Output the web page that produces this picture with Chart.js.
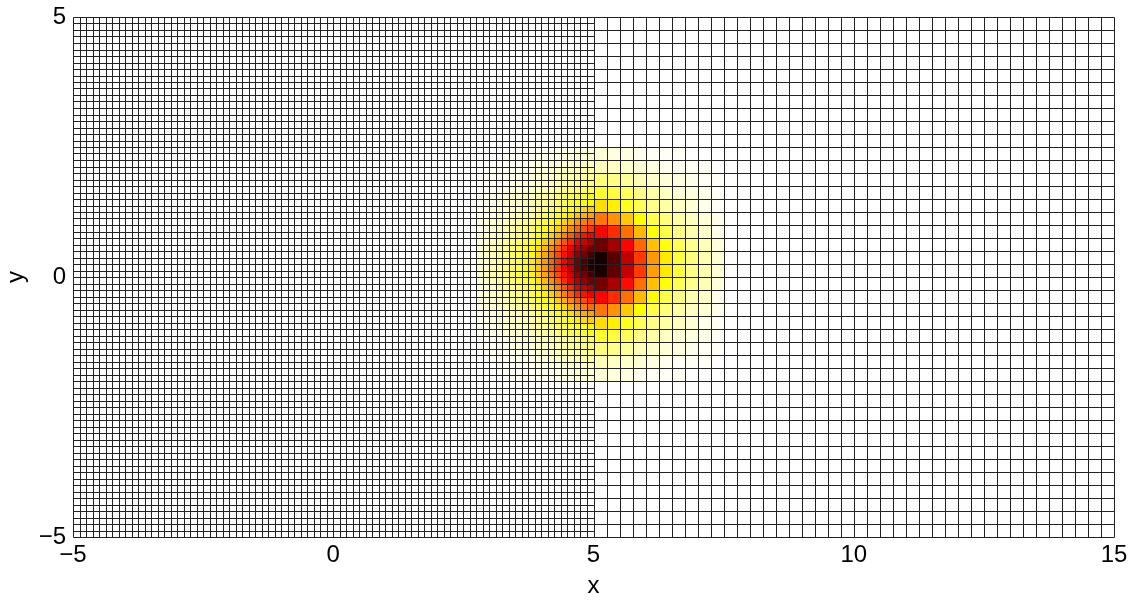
<!DOCTYPE html>
<html>
<head>
<meta charset="utf-8">
<title>Heat map on a two-part mesh</title>
<script src="https://cdn.jsdelivr.net/npm/chart.js@4.4.1/dist/chart.umd.min.js"></script>
<style>
    body { margin: 0; background: #fff; }
    #wrap { width: 1137px; height: 600px; }
</style>
</head>
<body>
<div id="wrap"><canvas id="mesh-chart"></canvas></div>
<script>
// Axis ranges and ticks
const xRange = [-5, 15];
const yRange = [-5, 5];
const xTicks = [-5, 0, 5, 10, 15];
const yTicks = [-5, 0, 5];

// Mesh: fine cells on the left half, coarse cells on the right half
const fineMeshX = [-5, 5];
const coarseMeshX = [5, 15];
const meshY = [-5, 5];
const fineStep = 0.125;
const coarseStep = 0.25;

// Field values (percent of peak), rows from top to bottom.
// Cells outside these blocks are zero (white).
const fineBlockX = [2.75, 5];   // 18 columns
const fineBlockY = [2.5, -2];   // 36 rows
const fineValues = [
    [0,0,0,0,0,0,1,1,1,1,1,1,2,2,2,3,3,3],
    [0,0,0,0,1,1,1,1,1,2,2,2,2,3,3,4,4,4],
    [0,0,0,1,1,1,1,1,2,2,2,3,3,4,4,5,5,6],
    [0,0,1,1,1,1,2,2,2,3,3,4,5,5,6,7,8,8],
    [0,1,1,1,1,2,2,3,3,4,4,5,6,7,8,9,10,11],
    [1,1,1,1,2,2,3,3,4,5,6,7,8,9,10,12,13,13],
    [1,1,1,2,2,3,4,4,5,6,7,9,10,12,13,15,16,17],
    [1,1,2,2,3,4,4,6,6,8,9,11,13,15,17,19,21,22],
    [1,1,2,3,4,4,5,6,8,9,11,13,15,17,20,23,24,26],
    [1,2,3,3,4,5,6,8,9,11,13,16,18,21,24,28,30,32],
    [2,2,3,4,5,7,8,10,11,14,17,20,23,26,30,34,37,39],
    [2,3,4,5,6,8,10,12,14,16,20,24,27,31,36,41,44,47],
    [2,3,4,6,7,9,11,14,16,19,23,27,32,36,42,48,51,55],
    [3,4,5,7,9,11,13,16,19,22,27,32,37,43,49,56,60,64],
    [3,4,6,8,10,12,15,19,22,26,32,37,43,50,57,66,70,75],
    [3,5,7,9,11,14,17,21,24,29,35,42,48,56,64,73,78,84],
    [4,5,7,9,12,15,18,23,26,31,38,45,52,60,69,79,84,90],
    [4,5,8,10,13,16,19,24,28,33,40,48,55,63,72,83,89,95],
    [4,5,8,10,13,16,19,24,28,33,40,48,55,63,72,83,89,95],
    [4,5,7,9,12,15,18,23,26,31,38,45,52,60,69,79,84,90],
    [3,5,7,9,11,14,17,21,24,29,35,42,48,56,64,73,78,84],
    [3,4,6,8,10,12,15,19,22,26,32,37,43,50,57,66,70,75],
    [3,4,5,7,9,11,13,16,19,22,27,32,37,43,49,56,60,64],
    [2,3,4,6,7,9,11,14,16,19,23,27,32,36,42,48,51,55],
    [2,3,4,5,6,8,10,12,14,16,20,24,27,31,36,41,44,47],
    [2,2,3,4,5,7,8,10,11,14,17,20,23,26,30,34,37,39],
    [1,2,3,3,4,5,6,8,9,11,13,16,18,21,24,28,30,32],
    [1,1,2,3,4,4,5,6,8,9,11,13,15,17,20,23,24,26],
    [1,1,2,2,3,4,4,6,6,8,9,11,13,15,17,19,21,22],
    [1,1,1,2,2,3,4,4,5,6,7,9,10,12,13,15,16,17],
    [1,1,1,1,2,2,3,3,4,5,6,7,8,9,10,12,13,13],
    [0,1,1,1,1,2,2,3,3,4,4,5,6,7,8,9,10,11],
    [0,0,1,1,1,1,2,2,2,3,3,4,5,5,6,7,8,8],
    [0,0,0,1,1,1,1,1,2,2,2,3,3,4,4,5,5,6],
    [0,0,0,0,1,1,1,1,1,2,2,2,2,3,3,4,4,4],
    [0,0,0,0,0,0,1,1,1,1,1,1,2,2,2,3,3,3]
];

const coarseBlockX = [5, 7.5];  // 10 columns
const coarseBlockY = [2.5, -2]; // 18 rows
const coarseValues = [
    [4,3,3,2,1,1,1,0,0,0],
    [7,6,5,4,3,2,1,1,1,0],
    [13,12,10,7,5,4,3,2,1,1],
    [21,19,16,12,9,6,4,3,2,1],
    [30,27,22,17,12,9,6,4,2,1],
    [45,41,33,25,18,13,9,6,4,2],
    [62,56,46,35,25,18,12,8,5,2],
    [84,76,62,47,34,24,17,11,7,3],
    [97,87,72,54,40,28,19,13,8,4],
    [96,86,71,54,39,28,19,12,8,4],
    [83,75,61,46,34,24,17,11,7,3],
    [62,56,46,35,25,18,12,8,5,2],
    [45,41,33,25,18,13,9,6,4,2],
    [30,27,22,17,12,9,6,4,2,1],
    [21,19,16,12,9,6,4,3,2,1],
    [13,12,10,7,5,4,3,2,1,1],
    [7,6,5,4,3,2,1,1,1,0],
    [4,3,3,2,1,1,1,0,0,0]
];

// Reversed "hot" colour map: 0 -> white, then yellow, red, black at the peak
function hotColor(v) {
    const t = 1 - Math.min(Math.max(v / 100, 0), 1);
    const clamp = a => Math.min(Math.max(a, 0), 1);
    const r = clamp(t / 0.375);
    const g = clamp((t - 0.375) / 0.375);
    const b = clamp((t - 0.75) / 0.25);
    return `rgb(${Math.round(r * 255)},${Math.round(g * 255)},${Math.round(b * 255)})`;
}

function drawBlock(ctx, xs, ys, blockX, blockY, step, values) {
    values.forEach((row, i) => {
        const yTop = blockY[0] - i * step;
        const py0 = Math.round(ys.getPixelForValue(yTop));
        const py1 = Math.round(ys.getPixelForValue(yTop - step));
        row.forEach((v, j) => {
            if (v <= 0) return;
            const xLeft = blockX[0] + j * step;
            const px0 = Math.round(xs.getPixelForValue(xLeft));
            const px1 = Math.round(xs.getPixelForValue(xLeft + step));
            ctx.fillStyle = hotColor(v);
            ctx.fillRect(px0, py0, px1 - px0, py1 - py0);
        });
    });
}

function drawMesh(ctx, xs, ys, rangeX, rangeY, step) {
    const left = Math.round(xs.getPixelForValue(rangeX[0])) + 0.5;
    const right = Math.round(xs.getPixelForValue(rangeX[1])) + 0.5;
    const top = Math.round(ys.getPixelForValue(rangeY[1])) + 0.5;
    const bottom = Math.round(ys.getPixelForValue(rangeY[0])) + 0.5;
    ctx.beginPath();
    for (let v = rangeX[0]; v <= rangeX[1] + 1e-9; v += step) {
        const px = Math.round(xs.getPixelForValue(v)) + 0.5;
        ctx.moveTo(px, top);
        ctx.lineTo(px, bottom);
    }
    for (let v = rangeY[0]; v <= rangeY[1] + 1e-9; v += step) {
        const py = Math.round(ys.getPixelForValue(v)) + 0.5;
        ctx.moveTo(left, py);
        ctx.lineTo(right, py);
    }
    ctx.stroke();
}

const meshPlugin = {
    id: 'meshHeatmap',
    beforeDatasetsDraw(chart) {
        const { ctx, chartArea, scales } = chart;
        ctx.save();
        ctx.fillStyle = '#fff';
        ctx.fillRect(chartArea.left, chartArea.top, chartArea.width, chartArea.height);
        drawBlock(ctx, scales.x, scales.y, fineBlockX, fineBlockY, fineStep, fineValues);
        drawBlock(ctx, scales.x, scales.y, coarseBlockX, coarseBlockY, coarseStep, coarseValues);
        ctx.strokeStyle = '#222';
        ctx.lineWidth = 1;
        drawMesh(ctx, scales.x, scales.y, fineMeshX, meshY, fineStep);
        drawMesh(ctx, scales.x, scales.y, coarseMeshX, meshY, coarseStep);
        ctx.restore();
    }
};

const axisFont = { family: '"Liberation Sans", Arial, sans-serif', size: 24 };
const titleFont = { family: '"Liberation Sans", Arial, sans-serif', size: 24, lineHeight: 1 };
const minus = value => String(value).replace('-', '\u2212');

new Chart(document.getElementById('mesh-chart'), {
    type: 'scatter',
    data: { datasets: [{ data: [] }] },
    options: {
        responsive: true,
        maintainAspectRatio: false,
        animation: false,
        layout: { padding: { top: 17, right: 23, bottom: 0, left: 0 } },
        plugins: {
            legend: { display: false },
            tooltip: { enabled: false }
        },
        scales: {
            x: {
                type: 'linear',
                min: xRange[0],
                max: xRange[1],
                afterBuildTicks: scale => { scale.ticks = xTicks.map(v => ({ value: v })); },
                grid: { display: false, drawTicks: false },
                border: { display: false },
                ticks: { font: axisFont, color: '#000', padding: 4, maxRotation: 0, autoSkip: false, callback: minus },
                title: { display: true, text: 'x', font: titleFont, color: '#000', padding: { top: 0, bottom: 2 } },
                afterFit: scale => { scale.height = 63; scale.paddingLeft = 0; scale.paddingRight = 0; }
            },
            y: {
                type: 'linear',
                min: yRange[0],
                max: yRange[1],
                afterBuildTicks: scale => { scale.ticks = yTicks.map(v => ({ value: v })); },
                grid: { display: false, drawTicks: false },
                border: { display: false },
                ticks: { font: axisFont, color: '#000', padding: 7, autoSkip: false, callback: minus },
                title: { display: true, text: 'y', font: titleFont, color: '#000', padding: { top: 4, bottom: 0 } },
                afterFit: scale => { scale.width = 73; scale.paddingTop = 0; scale.paddingBottom = 0; }
            }
        }
    },
    plugins: [meshPlugin]
});
</script>
</body>
</html>
